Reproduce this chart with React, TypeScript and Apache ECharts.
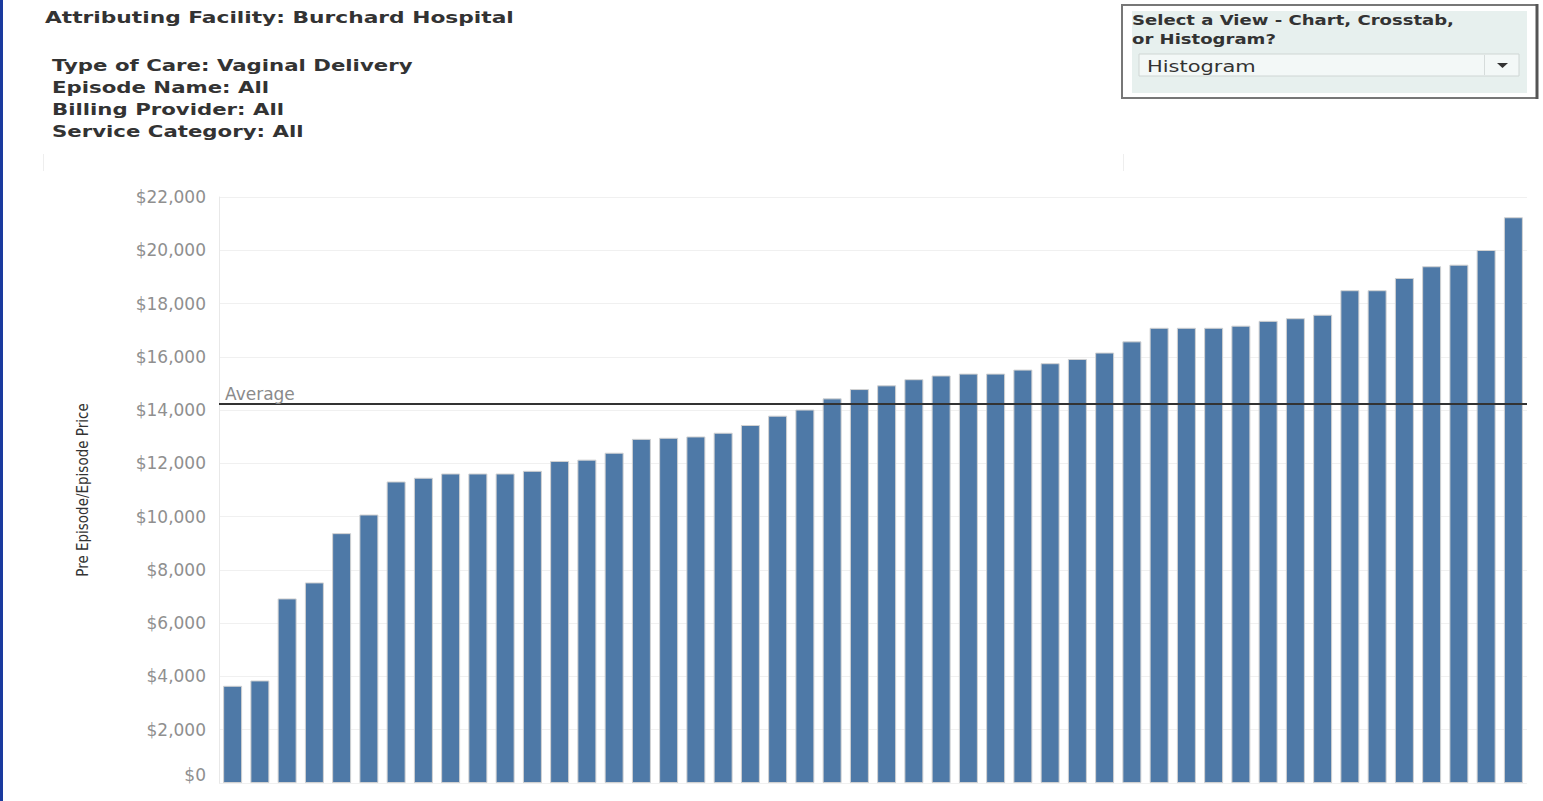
import React, { useEffect, useRef } from 'react';
import * as echarts from 'echarts';

const headerTitle = 'Attributing Facility: Burchard Hospital';
const filterLines = [
  'Type of Care: Vaginal Delivery',
  'Episode Name: All',
  'Billing Provider: All',
  'Service Category: All',
];
const viewPrompt = ['Select a View - Chart, Crosstab,', 'or Histogram?'];
const viewChoice = 'Histogram';

const yAxisTitle = 'Pre Episode/Episode Price';
const averageLabel = 'Average';

const episodes = [
  'E01', 'E02', 'E03', 'E04', 'E05', 'E06', 'E07', 'E08', 'E09', 'E10', 'E11', 'E12',
  'E13', 'E14', 'E15', 'E16', 'E17', 'E18', 'E19', 'E20', 'E21', 'E22', 'E23', 'E24',
  'E25', 'E26', 'E27', 'E28', 'E29', 'E30', 'E31', 'E32', 'E33', 'E34', 'E35', 'E36',
  'E37', 'E38', 'E39', 'E40', 'E41', 'E42', 'E43', 'E44', 'E45', 'E46', 'E47', 'E48',
];

const prices = [
  3650, 3850, 6930, 7530, 9380, 10080, 11320, 11460, 11620, 11620, 11620, 11720,
  12090, 12140, 12400, 12920, 12960, 13010, 13150, 13440, 13790, 14020, 14440, 14790,
  14930, 15160, 15300, 15370, 15370, 15520, 15760, 15920, 16160, 16580, 17090, 17090,
  17090, 17170, 17350, 17450, 17580, 18500, 18500, 18960, 19400, 19460, 20010, 21240,
];

const yTickLabels = [
  '$0', '$2,000', '$4,000', '$6,000', '$8,000', '$10,000',
  '$12,000', '$14,000', '$16,000', '$18,000', '$20,000', '$22,000',
];

export default function App() {
  const ref = useRef<HTMLDivElement>(null);

  useEffect(() => {
    if (!ref.current) return;
    const chart = echarts.init(ref.current, null, { renderer: 'svg' });

    const headerText = (
      text: string, x: number, y: number, size: number, weight: string, fill: string, sx: number,
    ) => ({
      type: 'text',
      x,
      y,
      scaleX: sx,
      z: 12,
      style: {
        text,
        fontFamily: 'DejaVu Sans',
        fontSize: size,
        fontWeight: weight,
        fill,
        verticalAlign: 'middle',
        align: 'left',
      },
    });

    const graphic: any[] = [
      { type: 'rect', shape: { x: 0, y: 0, width: 3, height: 801 }, style: { fill: '#1a3a9e' }, z: 10 },
      headerText(headerTitle, 45, 18, 16, 'bold', '#333333', 1.36),
      ...filterLines.map((t, i) => headerText(t, 52, 65 + i * 22, 16, 'bold', '#333333', 1.33)),
      { type: 'line', shape: { x1: 43.5, y1: 154, x2: 43.5, y2: 171 }, style: { stroke: '#eeeeee', lineWidth: 1 } },
      { type: 'line', shape: { x1: 1123.5, y1: 154, x2: 1123.5, y2: 171 }, style: { stroke: '#eeeeee', lineWidth: 1 } },
      // dropdown panel
      { type: 'rect', shape: { x: 1122, y: 5, width: 415, height: 93 }, style: { fill: '#ffffff', stroke: '#777777', lineWidth: 2 }, z: 10 },
      { type: 'line', shape: { x1: 1537, y1: 4, x2: 1537, y2: 99 }, style: { stroke: '#555555', lineWidth: 3 }, z: 10 },
      { type: 'rect', shape: { x: 1132, y: 11, width: 395, height: 82 }, style: { fill: '#e7f0ee' }, z: 11 },
      headerText(viewPrompt[0], 1132, 20, 14, 'bold', '#333333', 1.29),
      headerText(viewPrompt[1], 1132, 39, 14, 'bold', '#333333', 1.29),
      { type: 'rect', shape: { x: 1139, y: 54, width: 380, height: 22 }, style: { fill: '#f3f8f7', stroke: '#cfd6d4', lineWidth: 1 }, z: 11 },
      { type: 'line', shape: { x1: 1484.5, y1: 55, x2: 1484.5, y2: 75 }, style: { stroke: '#d6dcdb', lineWidth: 1 }, z: 12 },
      { type: 'polygon', shape: { points: [[1497, 63], [1508, 63], [1502.5, 68]] }, style: { fill: '#333333' }, z: 12 },
      headerText(viewChoice, 1147, 66, 16, 'normal', '#333333', 1.31),
    ];

    chart.setOption({
      animation: false,
      backgroundColor: '#ffffff',
      grid: { left: 219, right: 16, top: 197, bottom: 18, containLabel: false },
      xAxis: {
        type: 'category',
        data: episodes,
        axisLabel: { show: false },
        axisTick: { show: false },
        axisLine: { show: false },
        splitLine: { show: false },
      },
      yAxis: {
        type: 'value',
        min: 0,
        max: 22000,
        interval: 2000,
        name: yAxisTitle,
        nameLocation: 'middle',
        nameGap: 129,
        nameTextStyle: {
          fontFamily: "'DejaVu Sans Condensed', 'Liberation Sans', sans-serif",
          fontSize: 15,
          color: '#333333',
        },
        axisLine: { show: true, lineStyle: { color: '#e8e8e8', width: 1 } },
        axisTick: { show: false },
        splitLine: { lineStyle: { color: '#f0f0f0', width: 1 } },
        axisLabel: {
          formatter: (v: number) => yTickLabels[Math.round(v / 2000)],
          color: '#8f8f8f',
          fontFamily: 'DejaVu Sans',
          fontSize: 17,
          margin: 13,
          verticalAlignMinLabel: 'bottom',
        },
      },
      series: [
        {
          type: 'bar',
          data: prices,
          barWidth: 19,
          itemStyle: { color: '#4e79a7', borderColor: '#d2d2d2', borderWidth: 1 },
          markLine: {
            silent: true,
            symbol: 'none',
            lineStyle: { color: '#333333', width: 2, type: 'solid' },
            label: {
              show: true,
              position: 'insideStartTop',
              formatter: averageLabel,
              color: '#8a8a8a',
              fontFamily: 'DejaVu Sans',
              fontSize: 17,
              distance: [6, 2],
            },
            data: [{ type: 'average', name: averageLabel }],
          },
        },
      ],
      graphic,
    } as any);

    return () => chart.dispose();
  }, []);

  return (
    <div
      ref={ref}
      style={{ position: 'fixed', left: 0, top: 0, width: 1543, height: 801, background: '#ffffff' }}
    />
  );
}
